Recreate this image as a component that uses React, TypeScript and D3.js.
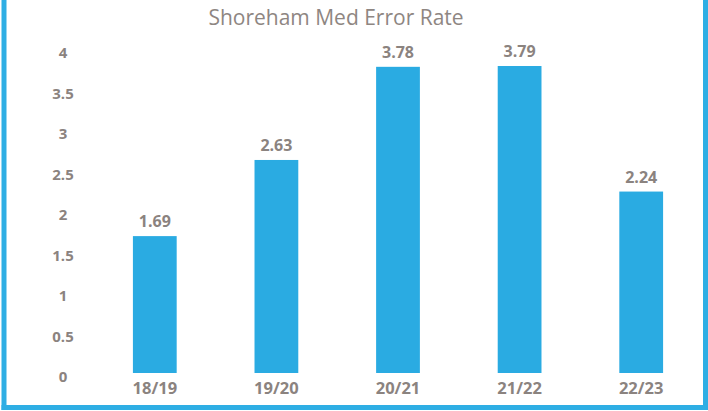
import React, { useEffect, useRef } from 'react';
import * as d3 from 'd3';

const years = ['18/19', '19/20', '20/21', '21/22', '22/23'];
const errorRates = [1.69, 2.63, 3.78, 3.79, 2.24];
const yTicks = [0, 0.5, 1, 1.5, 2, 2.5, 3, 3.5, 4];

const App = () => {
  const chartRef = useRef<HTMLDivElement>(null);

  useEffect(() => {
    const width = 708;
    const height = 411;
    const font = '"Open Sans", "Noto Sans", sans-serif';
    const grey = '#8b837f';
    const frameBlue = '#2eaee4';

    document.body.style.margin = '0';

    const svg = d3.select(chartRef.current)
      .append('svg')
      .attr('width', width)
      .attr('height', height)
      .style('display', 'block');

    svg.append('rect')
      .attr('width', width)
      .attr('height', height)
      .attr('fill', '#ffffff');

    const x = d3.scaleBand()
      .domain(years)
      .range([94, 702])
      .paddingInner(0.64)
      .paddingOuter(0.32);

    const y = d3.scaleLinear()
      .domain([0, 4])
      .range([373, 49]);

    // title
    svg.append('text')
      .attr('x', 336)
      .attr('y', 25)
      .attr('text-anchor', 'middle')
      .style('font-family', font)
      .style('font-size', '21px')
      .attr('fill', '#8e8682')
      .text('Shoreham Med Error Rate');

    // y labels
    svg.selectAll('.ytick')
      .data(yTicks)
      .enter()
      .append('text')
      .attr('class', 'ytick')
      .attr('x', 63)
      .attr('y', d => y(d) + 9)
      .attr('text-anchor', 'middle')
      .style('font-family', font)
      .style('font-size', '15px')
      .style('font-weight', 'bold')
      .attr('fill', grey)
      .text(d => String(d));

    // bars
    svg.selectAll('.bar')
      .data(errorRates)
      .enter()
      .append('rect')
      .attr('class', 'bar')
      .attr('x', (d, i) => x(years[i]) as number)
      .attr('y', d => y(d))
      .attr('width', x.bandwidth())
      .attr('height', d => y(0) - y(d))
      .attr('fill', '#2aabe2');

    // value labels
    svg.selectAll('.val')
      .data(errorRates)
      .enter()
      .append('text')
      .attr('class', 'val')
      .attr('x', (d, i) => (x(years[i]) as number) + x.bandwidth() / 2)
      .attr('y', d => y(d) - 9)
      .attr('text-anchor', 'middle')
      .style('font-family', font)
      .style('font-size', '16px')
      .style('font-weight', 'bold')
      .attr('fill', grey)
      .text(d => d.toFixed(2));

    // category labels
    svg.selectAll('.xtick')
      .data(years)
      .enter()
      .append('text')
      .attr('class', 'xtick')
      .attr('x', d => (x(d) as number) + x.bandwidth() / 2)
      .attr('y', 394)
      .attr('text-anchor', 'middle')
      .style('font-family', font)
      .style('font-size', '16.5px')
      .style('font-weight', 'bold')
      .attr('fill', grey)
      .text(d => d);

    // frame: left, right and bottom edges (top is cropped off)
    svg.append('rect')
      .attr('x', 1.5).attr('y', 0)
      .attr('width', 5).attr('height', 410)
      .attr('fill', frameBlue);
    svg.append('rect')
      .attr('x', 703).attr('y', 0)
      .attr('width', 5).attr('height', 410)
      .attr('fill', frameBlue);
    svg.append('rect')
      .attr('x', 1.5).attr('y', 405)
      .attr('width', 706.5).attr('height', 5)
      .attr('fill', frameBlue);

    return () => {
      d3.select(chartRef.current).selectAll('*').remove();
    };
  }, []);

  return <div ref={chartRef}></div>;
};

export default App;
